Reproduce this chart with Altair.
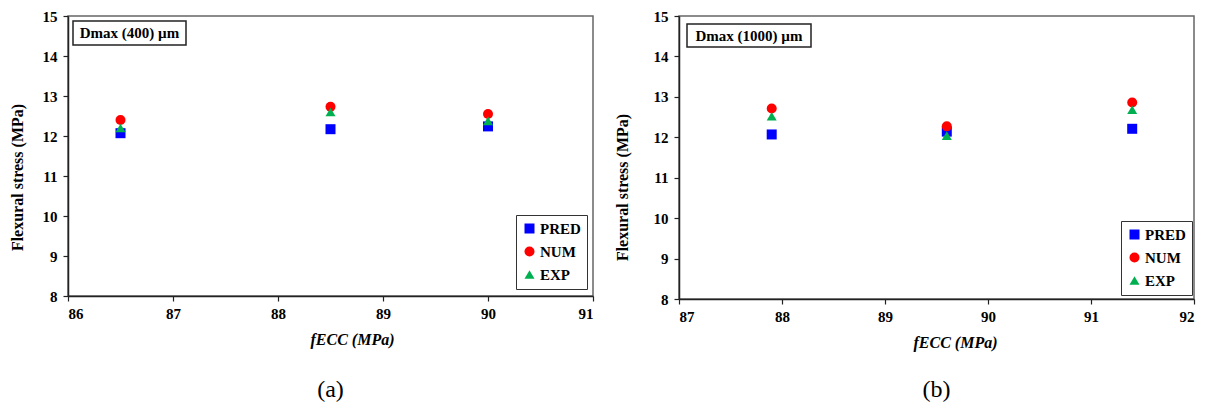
import altair as alt
import pandas as pd

series = ["PRED", "NUM", "EXP"]
colors = ["#0000FF", "#FF0000", "#00B050"]
shapes = ["square", "circle", "triangle-up"]

a_x = [86.5, 88.5, 90.0]
a_pred = [12.07, 12.17, 12.24]
a_num = [12.40, 12.73, 12.55]
a_exp = [12.20, 12.60, 12.38]

b_x = [87.9, 89.6, 91.4]
b_pred = [12.07, 12.14, 12.21]
b_num = [12.71, 12.27, 12.86]
b_exp = [12.52, 12.04, 12.68]

a_xticks = [86, 87, 88, 89, 90, 91]
b_xticks = [87, 88, 89, 90, 91, 92]
y_ticks = [8, 9, 10, 11, 12, 13, 14, 15]

FONT = "'Times New Roman', 'Liberation Serif', 'DejaVu Serif', serif"


def make_df(xs, preds, nums, exps):
    rows = []
    for k, (name, vals) in enumerate(zip(series, [preds, nums, exps])):
        for xv, yv in zip(xs, vals):
            rows.append({"x": xv, "y": yv, "series": name, "ord": k})
    return pd.DataFrame(rows)


def legend(legxy):
    return alt.Legend(title=None, orient="none",
                      legendX=legxy[0], legendY=legxy[1],
                      strokeColor="#333", fillColor="#fff",
                      padding=6, rowPadding=7, symbolSize=100,
                      symbolStrokeWidth=0, labelOffset=3,
                      labelFont=FONT, labelFontWeight="bold",
                      labelFontSize=15, labelColor="#000")


def panel(xs, preds, nums, exps, xticks, w, h, label, box, legxy, ytx, yty, xtx, title, toff):
    df = make_df(xs, preds, nums, exps)
    pts = alt.Chart(df).mark_point(filled=True, opacity=1, size=100, strokeWidth=0).encode(
        x=alt.X("x:Q",
                scale=alt.Scale(domain=[xticks[0], xticks[-1]], nice=False, zero=False),
                axis=alt.Axis(values=xticks, title="fECC (MPa)", grid=False,
                              labelFont=FONT, labelFontWeight="bold", labelFontSize=15,
                              labelColor="#000", tickColor="#222", domainColor="#222",
                              domainWidth=1.5, tickWidth=1.2, tickSize=5, labelPadding=5,
                              titleFont=FONT, titleFontStyle="italic", titleFontWeight="bold",
                              titleFontSize=16, titleColor="#000",
                              titleX=xtx, titleY=35, titleAlign="center",
                              titleBaseline="top")),
        y=alt.Y("y:Q",
                scale=alt.Scale(domain=[8, 15], nice=False, zero=False),
                axis=alt.Axis(values=y_ticks, title="Flexural stress (MPa)", grid=False,
                              labelFont=FONT, labelFontWeight="bold", labelFontSize=15,
                              labelColor="#000", tickColor="#222", domainColor="#222",
                              domainWidth=1.5, tickWidth=1.2, tickSize=5, labelPadding=6,
                              titleFont=FONT, titleFontWeight="bold", titleFontSize=16,
                              titleColor="#000", titleX=ytx, titleY=yty,
                              titleAlign="center", titleBaseline="middle")),
        color=alt.Color("series:N", scale=alt.Scale(domain=series, range=colors),
                        legend=legend(legxy)),
        shape=alt.Shape("series:N", scale=alt.Scale(domain=series, range=shapes),
                        legend=legend(legxy)),
        order=alt.Order("ord:Q"),
    )
    lab = pd.DataFrame({"t": [label]})
    rect = alt.Chart(lab).mark_rect(fill="white", stroke="#222", strokeWidth=1.5).encode(
        x=alt.value(box[0]), x2=alt.value(box[1]), y=alt.value(box[2]), y2=alt.value(box[3]))
    txt = alt.Chart(lab).mark_text(font=FONT, fontWeight="bold", fontSize=15,
                                   color="#000", baseline="middle", align="center").encode(
        x=alt.value((box[0] + box[1]) / 2), y=alt.value((box[2] + box[3]) / 2), text="t:N")
    return alt.layer(pts, rect, txt).properties(
        width=w, height=h,
        title=alt.TitleParams(title, orient="bottom", anchor="middle", font=FONT,
                              fontWeight="normal", fontSize=24, color="#000", offset=toff),
    )


pa = panel(a_x, a_pred, a_num, a_exp, a_xticks, 525, 280, "Dmax (400) µm",
           (5, 118, 5, 29), (448, 199), -51, 161, 284, "(a)", 31)
pb = panel(b_x, b_pred, b_num, b_exp, b_xticks, 515, 283, "Dmax (1000) µm",
           (8, 132, 8, 31), (442, 205), -57, 171, 276, "(b)", 28)

chart = alt.hconcat(pa, pb, spacing=86, bounds="flush").resolve_scale(
    x="independent", y="independent", color="independent", shape="independent"
).resolve_legend(color="independent", shape="independent").configure_view(
    stroke="#666", strokeWidth=1.5
).properties(padding={"left": 0, "top": 0, "right": 0, "bottom": 0})

chart.save("out.html", embed_options={"renderer": "svg", "actions": False})
